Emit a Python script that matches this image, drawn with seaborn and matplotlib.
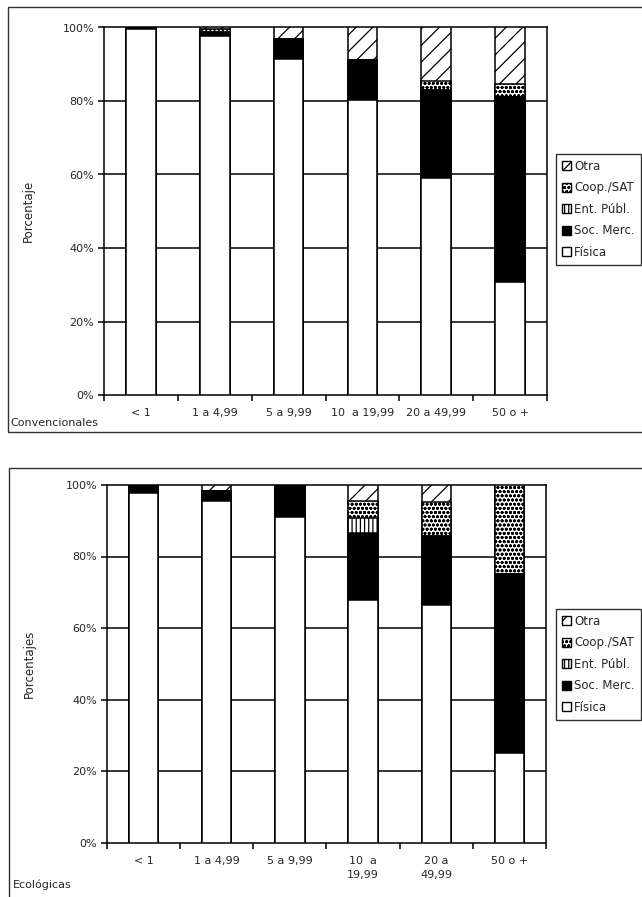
import matplotlib
matplotlib.use("Agg")
import matplotlib.pyplot as plt
import matplotlib.patches as mpatches
import numpy as np
import pandas as pd
import seaborn as sns

# datos (porcentajes)
cats_conv = ["< 1", "1 a 4,99", "5 a 9,99", "10  a 19,99", "20 a 49,99", "50 o +"]
cats_eco = ["< 1", "1 a 4,99", "5 a 9,99", "10  a\n19,99", "20 a\n49,99", "50 o +"]
series = ["Física", "Soc. Merc.", "Ent. Públ.", "Coop./SAT", "Otra"]

conv_fisica = [99.5, 97.7, 91.3, 80.4, 59.1, 30.8]
conv_soc = [0.5, 1.0, 5.5, 10.7, 24.0, 50.4]
conv_ent = [0, 0, 0, 0, 0, 0]
conv_coop = [0, 0.8, 0, 0, 2.3, 3.5]
conv_otra = [0, 0.5, 3.2, 8.9, 14.6, 15.3]

eco_fisica = [97.8, 95.5, 91.0, 67.8, 66.4, 25.0]
eco_soc = [2.2, 2.9, 9.0, 18.7, 19.3, 50.0]
eco_ent = [0, 0, 0, 4.2, 0, 0]
eco_coop = [0, 0, 0, 4.8, 9.5, 25.0]
eco_otra = [0, 1.6, 0, 4.5, 4.8, 0]

face = {"Física": "white", "Soc. Merc.": "black", "Ent. Públ.": "white",
        "Coop./SAT": "white", "Otra": "white"}
hatch = {"Física": None, "Soc. Merc.": None, "Ent. Públ.": "||||",
         "Coop./SAT": "oooo", "Otra": "//"}

sns.set_style("white")
plt.rcParams["font.family"] = ["DejaVu Sans"]
plt.rcParams["font.size"] = 8
plt.rcParams["hatch.linewidth"] = 0.9

W, H = 642, 897
fig = plt.figure(figsize=(W / 100, H / 100), dpi=100)


def stacked(ax, cats, vals, ylabel, pad, lx):
    df = pd.DataFrame(vals, index=series, columns=cats).T
    cum = df.cumsum(axis=1)
    long = cum.reset_index().melt(id_vars="index", var_name="serie", value_name="cum")
    long = long.rename(columns={"index": "cat"})
    # de arriba hacia abajo, cada capa tapa la anterior
    for s in series[::-1]:
        n0 = len(ax.patches)
        sns.barplot(data=long[long.serie == s], x="cat", y="cum", order=cats,
                    color=face[s], edgecolor="black", linewidth=1.1,
                    width=0.4, saturation=1, errorbar=None, ax=ax, zorder=3)
        for p in ax.patches[n0:]:
            p.set_facecolor(face[s])
            if hatch[s]:
                p.set_hatch(hatch[s])

    ax.set_xlim(-0.5, len(cats) - 0.5)
    ax.set_ylim(0, 100)
    ax.set_yticks([0, 20, 40, 60, 80, 100])
    ax.set_yticklabels(["0%", "20%", "40%", "60%", "80%", "100%"])
    ax.set_xticks(np.arange(-0.5, len(cats), 1.0))
    ax.set_xticklabels([])
    ax.set_xticks(np.arange(len(cats)), minor=True)
    ax.set_xticklabels(cats, minor=True, va="top", ha="center", linespacing=1.45)
    ax.tick_params(axis="x", which="minor", length=0, pad=pad)
    ax.tick_params(axis="both", which="major", length=4, width=1.1,
                   direction="out", color="black", pad=3, bottom=True, left=True)
    for y in [20, 40, 60, 80]:
        ax.axhline(y, color="black", lw=1.1, zorder=1)
    for sp in ax.spines.values():
        sp.set_visible(True)
        sp.set_color("black")
        sp.set_linewidth(1.1)
    ax.set_xlabel("")
    ax.set_ylabel(ylabel, fontsize=8.5)
    ax.yaxis.set_label_coords(lx, 0.5)


def legend(y_top):
    handles = [mpatches.Patch(facecolor=face[s], edgecolor="black", hatch=hatch[s],
                              label=s) for s in series[::-1]]
    leg = fig.legend(handles=handles, loc="upper left",
                     bbox_to_anchor=(556 / W, 1 - y_top / H),
                     handlelength=0.75, handleheight=0.75, handletextpad=0.3,
                     labelspacing=0.72, borderpad=0.5, fancybox=False,
                     borderaxespad=0, frameon=True, fontsize=8.5)
    leg.get_frame().set_edgecolor("black")
    leg.get_frame().set_linewidth(1)


ax1 = fig.add_axes([104 / W, 1 - 395 / H, 443 / W, 367.5 / H])
stacked(ax1, cats_conv, [conv_fisica, conv_soc, conv_ent, conv_coop, conv_otra],
        "Porcentaje", 9, -0.155)

ax2 = fig.add_axes([107 / W, 1 - 842.5 / H, 439 / W, 357.5 / H])
stacked(ax2, cats_eco, [eco_fisica, eco_soc, eco_ent, eco_coop, eco_otra],
        "Porcentajes", 10, -0.162)

legend(154)
legend(609)

# marcos exteriores de cada grafico
fig.add_artist(mpatches.Rectangle((8 / W, 1 - 432 / H), 700 / W, 425 / H,
                                  transform=fig.transFigure, fill=False,
                                  ec="#333333", lw=1))
fig.add_artist(mpatches.Rectangle((9 / W, -0.1), 700 / W, 0.1 + 1 - 468 / H,
                                  transform=fig.transFigure, fill=False,
                                  ec="#333333", lw=1))

fig.text(10 / W, 1 - 423 / H, "Convencionales", ha="left", va="center")
fig.text(13 / W, 1 - 885 / H, "Ecológicas", ha="left", va="center")

fig.savefig("out.png", dpi=100)
